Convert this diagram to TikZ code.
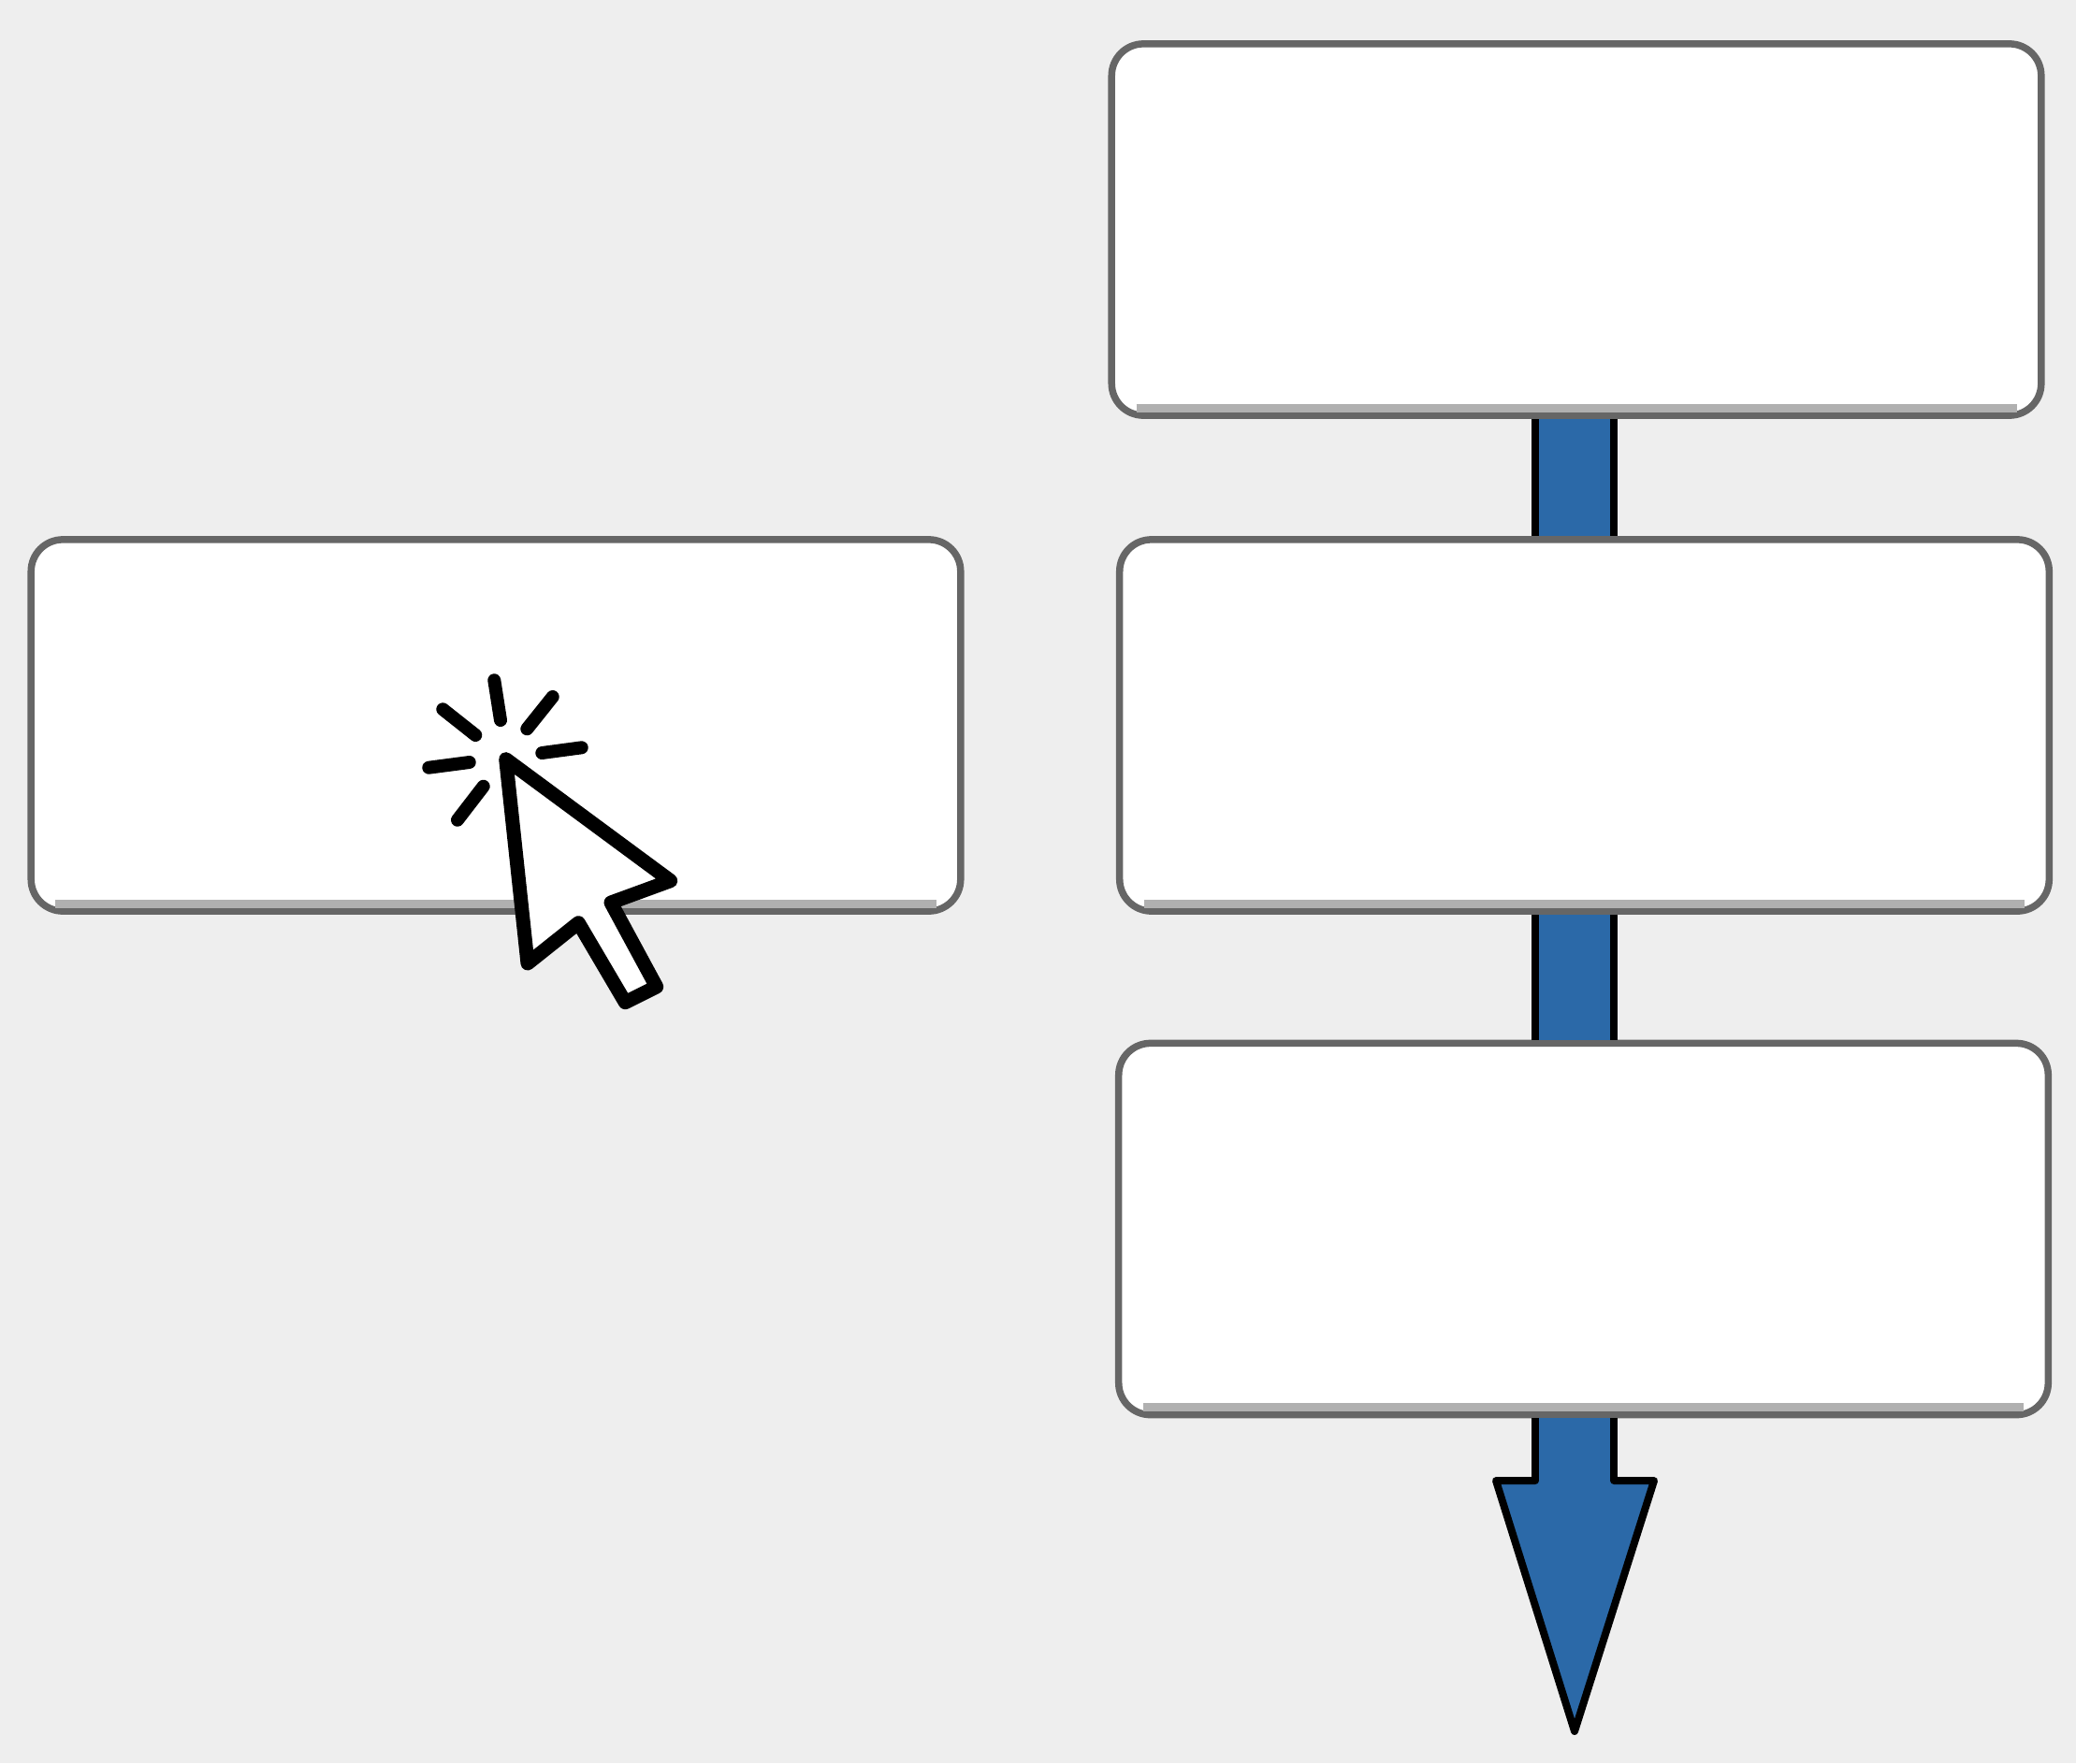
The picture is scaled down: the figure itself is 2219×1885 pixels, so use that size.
\documentclass[tikz,border=0pt]{standalone}
\usepackage{xcolor}
\definecolor{pagegray}{HTML}{EEEEEE}
\definecolor{boxedge}{HTML}{666666}
\definecolor{boxshadecol}{HTML}{B0B0B0}
\definecolor{pipeblue}{HTML}{2B69A8}
\tikzset{
  stepbox/.style={draw=boxedge, fill=white, line width=0.075cm, rounded corners=0.34cm,
    minimum width=9.93cm, minimum height=3.97cm, inner sep=0pt},
  boxshade/.style={draw=boxshadecol, line width=0.09cm},
  pipe/.style={draw=black, line width=0.08cm, double=pipeblue, double distance=0.76cm},
  pipehead/.style={draw=black, fill=pipeblue, line width=0.08cm, line join=round, line cap=round},
  cursorbody/.style={draw=black, fill=white, line width=0.15cm, line join=round},
  clickray/.style={draw=black, line width=0.14cm, line cap=round}
}
\begin{document}
\begin{tikzpicture}[x=0.01cm, y=-0.01cm]
  \fill[pagegray] (0,0) rectangle (2219,1885);
  \useasboundingbox (0,0) rectangle (2219,1885);

  \node[stepbox] (boxa) at (1685,245.5) {};
  \node[stepbox] (boxb) at (1693.5,775.5) {};
  \node[stepbox] (boxc) at (1692.5,1314) {};
  \node[stepbox] (boxd) at (530,775.5) {};
  \foreach \name in {boxa,boxb,boxc,boxd}
  {
  \draw[boxshade] ([xshift=0.3cm,yshift=0.118cm]\name.south west) -- ([xshift=-0.3cm,yshift=0.118cm]\name.south east);
  }

  \coordinate (axis) at (1683,1583);
  \coordinate (tip) at (1683,1851);
  \draw[pipe] (boxa.south -| axis) -- (boxb.north -| axis);
  \draw[pipe] (boxb.south -| axis) -- (boxc.north -| axis);
  \draw[pipe] (boxc.south -| axis) -- (axis);
  \draw[pipehead] (1641,1583) -- (1599,1583) -- (tip) -- (1768,1583) -- (1725,1583);

  % mouse pointer
  \draw[cursorbody] (540.7,811.7) -- (716.7,941.7) -- (653,965) -- (701.7,1055) -- (668.3,1071.7) -- (618.3,986.7) -- (564,1030) -- cycle;
  \foreach \xa/\ya/\xb/\yb in {528.3/727.3/535/770, 590.7/745/563.3/779.3, 621.7/799.3/579.3/805, 473.3/758.3/508.3/786, 501.7/815/458.3/820.7, 516.7/840.7/489/876.7}
  {
  \draw[clickray] (\xa,\ya) -- (\xb,\yb);
  }
\end{tikzpicture}
\end{document}
